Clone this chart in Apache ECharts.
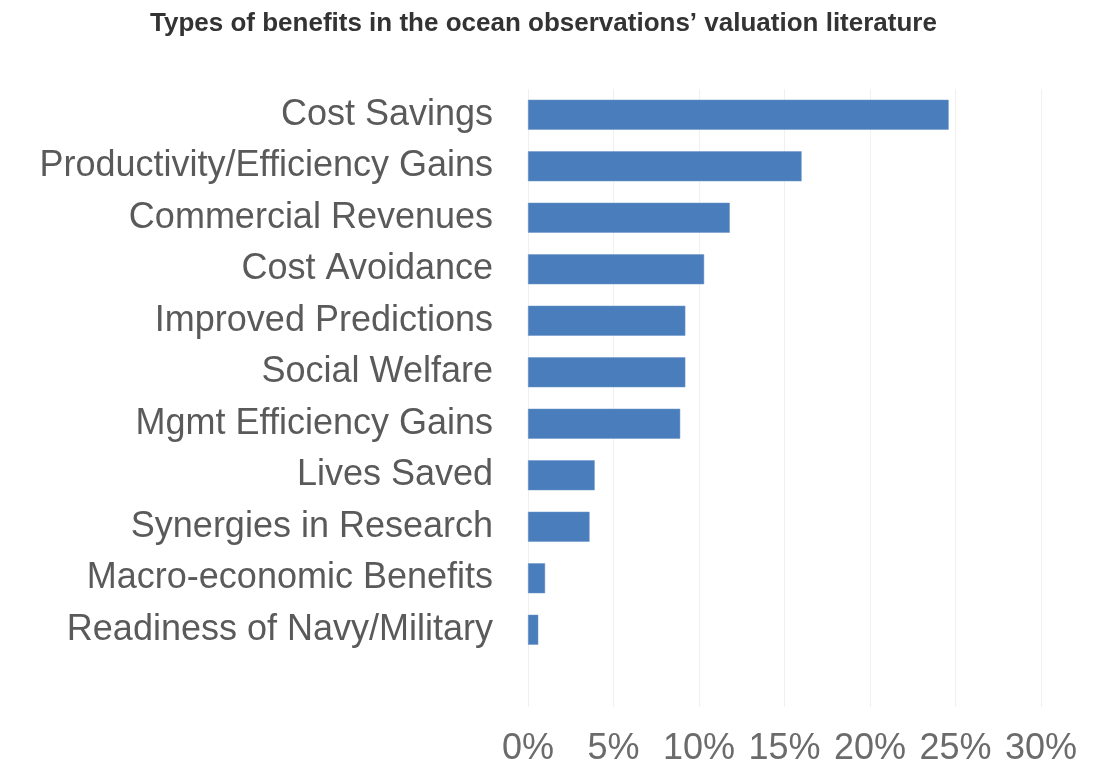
<!DOCTYPE html>
<html>
<head>
<meta charset="utf-8">
<script src="https://cdn.jsdelivr.net/npm/echarts@6/dist/echarts.min.js"></script>
<style>
  html, body { margin: 0; padding: 0; background: #ffffff; }
  #chart { width: 1104px; height: 767px; }
</style>
</head>
<body>
<div id="chart"></div>
<script>
const titleText = "Types of benefits in the ocean observations\u2019 valuation literature";
const categories = [
  "Cost Savings",
  "Productivity/Efficiency Gains",
  "Commercial Revenues",
  "Cost Avoidance",
  "Improved Predictions",
  "Social Welfare",
  "Mgmt Efficiency Gains",
  "Lives Saved",
  "Synergies in Research",
  "Macro-economic Benefits",
  "Readiness of Navy/Military"
];
const shares = [24.6, 16.0, 11.8, 10.3, 9.2, 9.2, 8.9, 3.9, 3.6, 1.0, 0.6];
const tickValues = [0, 5, 10, 15, 20, 25, 30];

const chart = echarts.init(document.getElementById('chart'), null, { renderer: 'canvas' });
chart.setOption({
  backgroundColor: '#ffffff',
  animation: false,
  title: {
    text: titleText,
    left: 145,
    top: 6,
    textStyle: {
      fontFamily: '"Liberation Sans", Arial, sans-serif',
      fontWeight: 'bold',
      fontSize: 26,
      color: '#333333'
    }
  },
  grid: { left: 528, right: 63, top: 89, bottom: 60, containLabel: false },
  xAxis: {
    type: 'value',
    min: 0,
    max: 30,
    interval: 5,
    axisLine: { show: false },
    axisTick: { show: false },
    splitLine: { show: true, lineStyle: { color: '#f0f0f0', width: 1 } },
    axisLabel: {
      margin: 24,
      fontFamily: '"Liberation Sans", Arial, sans-serif',
      fontSize: 36,
      color: '#6b6b6b',
      formatter: v => tickValues.indexOf(v) >= 0 ? v + '%' : ''
    }
  },
  yAxis: {
    type: 'category',
    data: categories,
    inverse: true,
    max: categories.length,
    axisLine: { show: false },
    axisTick: { show: false },
    splitLine: { show: false },
    axisLabel: {
      margin: 35,
      fontFamily: '"Liberation Sans", Arial, sans-serif',
      fontSize: 36,
      color: '#5a5a5a',
      formatter: v => (v === undefined || v === null || categories.indexOf(v) < 0) ? '' : v
    }
  },
  series: [{
    type: 'bar',
    data: shares,
    barWidth: 30,
    itemStyle: { color: '#4a7dbc', borderColor: '#6a95c8', borderWidth: 0.5 },
    silent: true
  }]
});
</script>
</body>
</html>
